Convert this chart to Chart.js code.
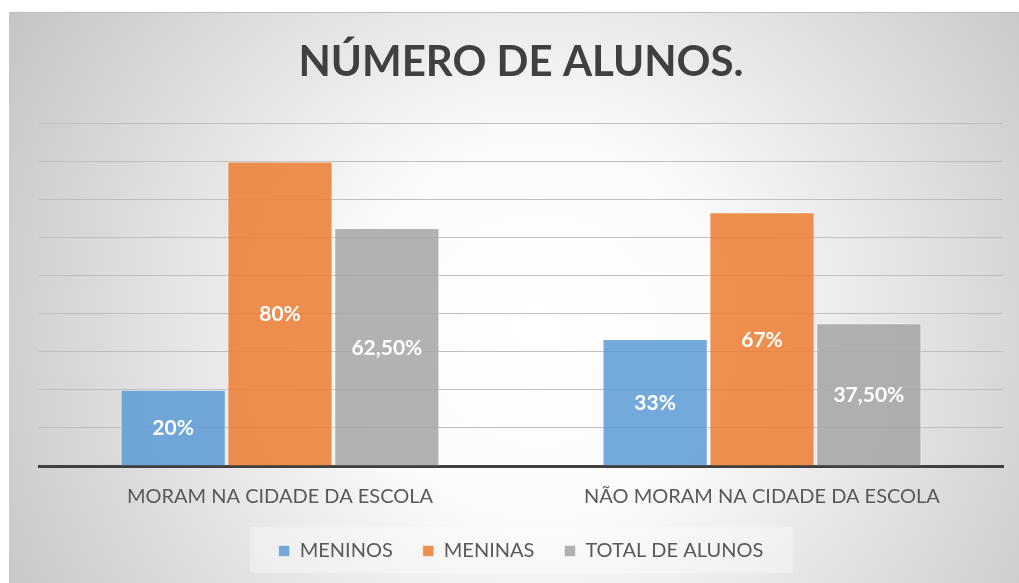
<!DOCTYPE html>
<html>
<head>
<meta charset="utf-8">
<script src="https://cdn.jsdelivr.net/npm/chart.js@4"></script>
<style>
  html, body { margin: 0; padding: 0; background: #fff; }
  #wrap { width: 1019px; height: 583px; position: relative; }
</style>
</head>
<body>
<div id="wrap"><canvas id="c" width="1019" height="583"></canvas></div>
<script>
const categories = ["MORAM NA CIDADE DA ESCOLA", "NÃO MORAM NA CIDADE DA ESCOLA"];
const meninos = [20, 33.33];
const meninas = [80, 66.67];
const totalAlunos = [62.5, 37.5];
const meninosLabels = ["20%", "33%"];
const meninasLabels = ["80%", "67%"];
const totalLabels = ["62,50%", "37,50%"];
const yMax = 90;
const yStep = 10;

const FONT = "Lato, 'Open Sans', sans-serif";

const bgPlugin = {
  id: 'bg',
  beforeDraw(chart) {
    const ctx = chart.ctx;
    const W = chart.width, H = chart.height;
    ctx.save();
    ctx.fillStyle = '#ffffff';
    ctx.fillRect(0, 0, W, H);
    const px = 9, py = 12;
    const g = ctx.createRadialGradient(540, 330, 0, 540, 330, 620);
    g.addColorStop(0, '#ffffff');
    g.addColorStop(0.3, '#fbfbfb');
    g.addColorStop(1, '#c4c4c4');
    ctx.fillStyle = g;
    ctx.fillRect(px, py, W - px, H - py);
    ctx.strokeStyle = '#bdbdbd';
    ctx.lineWidth = 1;
    ctx.beginPath();
    ctx.moveTo(px, py + 0.5);
    ctx.lineTo(W, py + 0.5);
    ctx.stroke();
    const lg = chart.legend;
    if (lg) {
      ctx.fillStyle = 'rgba(255,255,255,0.35)';
      ctx.fillRect(250, 527, 543, 46);
    }
    ctx.restore();
  }
};

const labelPlugin = {
  id: 'vlabels',
  afterDatasetsDraw(chart) {
    const ctx = chart.ctx;
    const sets = [meninosLabels, meninasLabels, totalLabels];
    ctx.save();
    ctx.fillStyle = '#ffffff';
    ctx.font = "bold 21px " + FONT;
    ctx.textAlign = 'center';
    ctx.textBaseline = 'middle';
    chart.data.datasets.forEach((ds, di) => {
      const meta = chart.getDatasetMeta(di);
      meta.data.forEach((bar, i) => {
        const cy = (bar.y + bar.base) / 2;
        ctx.fillText(sets[di][i], bar.x, cy + 1);
      });
    });
    ctx.restore();
  }
};

new Chart(document.getElementById('c'), {
  type: 'bar',
  data: {
    labels: categories,
    datasets: [
      { label: 'MENINOS', data: meninos, backgroundColor: 'rgba(91,155,213,0.85)', borderColor: 'rgba(255,255,255,0.5)', borderWidth: 1 },
      { label: 'MENINAS', data: meninas, backgroundColor: 'rgba(237,125,49,0.85)', borderColor: 'rgba(255,255,255,0.5)', borderWidth: 1 },
      { label: 'TOTAL DE ALUNOS', data: totalAlunos, backgroundColor: 'rgba(165,165,165,0.85)', borderColor: 'rgba(255,255,255,0.5)', borderWidth: 1 }
    ]
  },
  options: {
    responsive: false,
    animation: false,
    devicePixelRatio: 1,
    categoryPercentage: 0.665,
    barPercentage: 0.985,
    layout: { padding: { left: 39, right: 16, top: 37, bottom: 12 } },
    plugins: {
      title: {
        display: true,
        text: 'NÚMERO DE ALUNOS.',
        color: '#404040',
        font: { family: FONT, size: 42, weight: 'bold', lineHeight: 1.2 },
        padding: { top: 0, bottom: 36 }
      },
      legend: {
        position: 'bottom',
        labels: {
          color: '#595959',
          font: { family: FONT, size: 20 },
          boxWidth: 11,
          boxHeight: 11,
          padding: 30
        }
      },
      tooltip: { enabled: false }
    },
    scales: {
      x: {
        grid: { display: false },
        border: { display: true, color: '#404040', width: 3 },
        ticks: { color: '#595959', font: { family: FONT, size: 20 }, padding: 11 },
        afterFit(s) { s.height -= 9; }
      },
      y: {
        min: 0,
        max: yMax,
        ticks: { display: false, stepSize: yStep },
        grid: { color: '#bfbfbf', lineWidth: 1, drawTicks: false },
        border: { display: false },
        afterFit(s) { s.width = 0; }
      }
    }
  },
  plugins: [bgPlugin, labelPlugin]
});
</script>
</body>
</html>
